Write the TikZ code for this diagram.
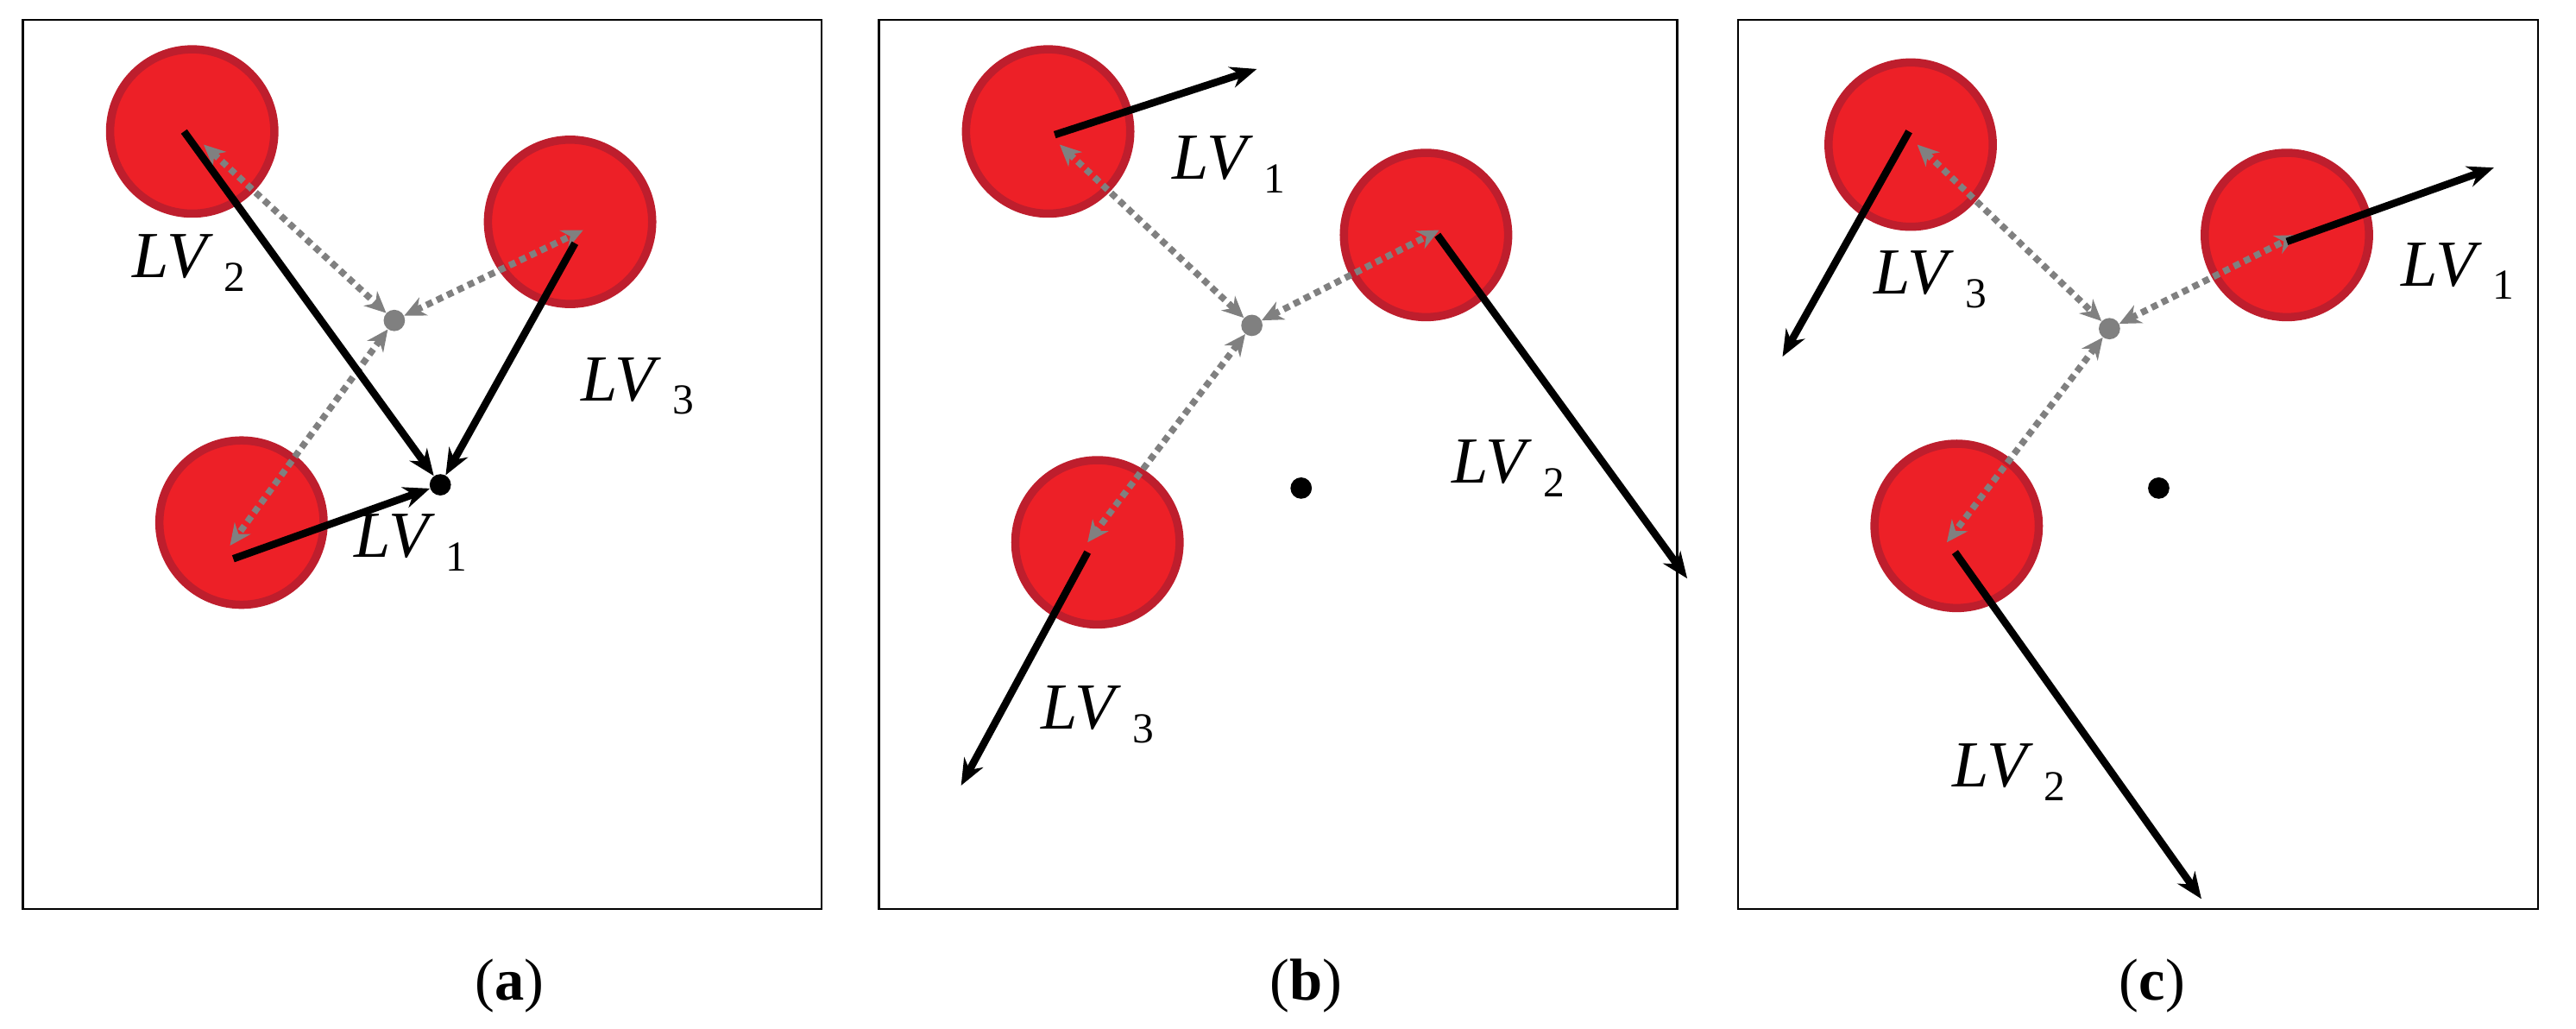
\documentclass[tikz,border=0pt]{standalone}
\usetikzlibrary{arrows.meta}
\usepackage{fontspec}
\setmainfont{Liberation Serif}
\definecolor{lvred}{RGB}{237,32,39}
\definecolor{lvdark}{RGB}{190,30,45}
\newcommand{\lvlab}[1]{\textit{LV}\,\raisebox{-0.45ex}{\fontsize{26}{30}\selectfont #1}}
\begin{document}
\begin{tikzpicture}[x=1pt,y=-1pt,
  lv/.style={circle,fill=lvred,draw=lvdark,line width=5pt,minimum size=100pt,inner sep=0pt},
  frame/.style={draw=black,line width=1.3pt},
  vec/.style={line width=4.5pt,-{Stealth[length=16pt,width=13pt]}},
  rel/.style={gray,line width=4pt,dash pattern=on 4pt off 3pt,{Stealth[length=13pt,width=12pt]}-{Stealth[length=13pt,width=12pt]}},
  cen/.style={circle,fill=gray,inner sep=0pt,minimum size=13pt},
  goal/.style={circle,fill=black,inner sep=0pt,minimum size=13pt},
  lab/.style={font=\fontsize{40}{46}\selectfont},
  subcap/.style={font=\fontsize{36}{42}\selectfont}]
\useasboundingbox (0,0) rectangle (1568,626);
% panel a
\node[frame,minimum width=486pt,minimum height=541pt,inner sep=0pt] (fa) at (257,282.5) {};
\node[lv] (a2) at (117,80) {};
\node[lv] (a3) at (347,135) {};
\node[lv] (a1) at (147,318) {};
\node[cen] (ac) at (240,195) {};
\node[goal] (ag) at (268,295) {};
\coordinate (a2s) at (112,80); \coordinate (a3s) at (350,148); \coordinate (a1s) at (142,340);
\coordinate (a2p) at (124,88); \coordinate (a3p) at (355,140); \coordinate (a1p) at (140,332);
\draw[rel] (a2p) -- (ac); \draw[rel] (ac) -- (a3p); \draw[rel] (ac) -- (a1p);
\draw[vec] (a2s) -- (ag); \draw[vec] (a3s) -- (ag); \draw[vec] (a1s) -- (ag);
\node[lab] (la2) at (115,160) {\lvlab{2}};
\node[lab] (la3) at (388,235) {\lvlab{3}};
\node[lab] (la1) at (250,330) {\lvlab{1}};
\node[subcap] (ca) at (310,600) {(\textbf{a})};
% panel b
\node[frame,minimum width=486pt,minimum height=541pt,inner sep=0pt] (fb) at (778,282.5) {};
\node[lv] (b1) at (638,80) {};
\node[lv] (b2) at (868,143) {};
\node[lv] (b3) at (668,330) {};
\node[cen] (bc) at (762,198) {};
\node[goal] (bg) at (792,297) {};
\coordinate (b1s) at (642,82); \coordinate (b1e) at (765,42);
\coordinate (b2s) at (875,143); \coordinate (b2e) at (1027,352);
\coordinate (b3s) at (662,336); \coordinate (b3e) at (585,478);
\coordinate (b1p) at (645,88); \coordinate (b2p) at (876,140); \coordinate (b3p) at (662,330);
\draw[rel] (b1p) -- (bc); \draw[rel] (bc) -- (b2p); \draw[rel] (bc) -- (b3p);
\draw[vec] (b1s) -- (b1e); \draw[vec] (b2s) -- (b2e); \draw[vec] (b3s) -- (b3e);
\node[lab] (lb1) at (748,100) {\lvlab{1}};
\node[lab] (lb2) at (918,285) {\lvlab{2}};
\node[lab] (lb3) at (668,435) {\lvlab{3}};
\node[subcap] (cb) at (795,600) {(\textbf{b})};
% panel c
\node[frame,minimum width=487pt,minimum height=541pt,inner sep=0pt] (fc) at (1301.5,282.5) {};
\node[lv] (c3) at (1163,88) {};
\node[lv] (c1) at (1392,143) {};
\node[lv] (c2) at (1191,320) {};
\node[cen] (cc) at (1284,200) {};
\node[goal] (cg) at (1314,297) {};
\coordinate (c3s) at (1162,80); \coordinate (c3e) at (1085,217);
\coordinate (c1s) at (1392,147); \coordinate (c1e) at (1518,102);
\coordinate (c2s) at (1190,336); \coordinate (c2e) at (1340,547);
\coordinate (c3p) at (1167,88); \coordinate (c1p) at (1398,143); \coordinate (c2p) at (1185,330);
\draw[rel] (c3p) -- (cc); \draw[rel] (cc) -- (c1p); \draw[rel] (cc) -- (c2p);
\draw[vec] (c3s) -- (c3e); \draw[vec] (c1s) -- (c1e); \draw[vec] (c2s) -- (c2e);
\node[lab] (lc3) at (1175,170) {\lvlab{3}};
\node[lab] (lc1) at (1496,165) {\lvlab{1}};
\node[lab] (lc2) at (1223,470) {\lvlab{2}};
\node[subcap] (cc2) at (1310,600) {(\textbf{c})};
\end{tikzpicture}
\end{document}
